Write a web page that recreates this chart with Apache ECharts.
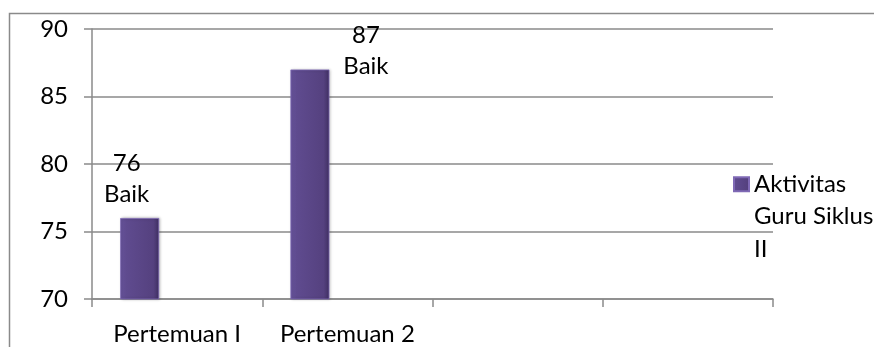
<!DOCTYPE html>
<html lang="id" style="height: 100%">
<head>
    <meta charset="UTF-8">
    <script src="https://cdn.jsdelivr.net/npm/echarts@6/dist/echarts.min.js"></script>
    <title>Aktivitas Guru Siklus II</title>
</head>
<body style="height: 100%; margin: 0; background: #fff">
<div id="chart" style="width: 874px; height: 347px"></div>
<script>
    // data
    var categories = ['Pertemuan I', 'Pertemuan 2', '', ''];
    var nilai = [76, 87];
    var kategori = ['Baik', 'Baik'];
    var seriesName = 'Aktivitas Guru Siklus II';
    var yTicks = [70, 75, 80, 85, 90];

    var fontName = 'Lato';
    var gray = '#8a8a8a';

    var myChart = echarts.init(document.getElementById('chart'));

    var barColor = new echarts.graphic.LinearGradient(0, 0, 1, 0, [
        {offset: 0, color: '#6a56a0'},
        {offset: 0.15, color: '#5f4b8f'},
        {offset: 0.85, color: '#55417f'},
        {offset: 1, color: '#3f2f62'}
    ]);

    // label posisi per batang (yg kedua ada di kanan atas)
    var labelPos = [
        {offset: [-13, 0], distance: 8},
        {offset: [56, 12], distance: 0}
    ];

    var barData = nilai.map(function (v, i) {
        return {
            value: v,
            label: {
                offset: labelPos[i].offset,
                distance: labelPos[i].distance,
                formatter: function (p) {
                    return p.value + '\n' + kategori[p.dataIndex];
                }
            }
        };
    });

    var option = {
        animation: false,
        textStyle: {fontFamily: fontName},
        graphic: [{
            type: 'rect',
            silent: true,
            shape: {x: 9.5, y: 13.5, width: 1000, height: 1000},
            style: {fill: 'none', stroke: gray, lineWidth: 1.5}
        }],
        grid: {left: 92, right: 101, top: 29, bottom: 48},
        legend: {
            data: [seriesName],
            orient: 'vertical',
            left: 728,
            top: 98,
            itemWidth: 15,
            itemHeight: 14,
            itemGap: 5,
            icon: 'rect',
            // 2 baris kosong di atas supaya ikon sejajar dgn baris pertama
            formatter: function (name) {
                return '\n\n' + name.replace('Aktivitas ', 'Aktivitas\n').replace('Siklus ', 'Siklus\n');
            },
            textStyle: {
                fontFamily: fontName,
                fontSize: 24,
                color: '#000',
                lineHeight: 32.5
            }
        },
        xAxis: {
            type: 'category',
            data: categories,
            axisLine: {lineStyle: {color: gray, width: 1.5}},
            axisTick: {show: true, interval: 0, length: 8, lineStyle: {color: gray, width: 1.5}},
            axisLabel: {color: '#000', interval: 0, fontSize: 24, fontFamily: fontName, margin: 23}
        },
        yAxis: {
            type: 'value',
            min: yTicks[0],
            max: yTicks[yTicks.length - 1],
            interval: 5,
            axisLine: {show: true, lineStyle: {color: gray, width: 1.5}},
            axisTick: {show: true, length: 8, lineStyle: {color: gray, width: 1.5}},
            axisLabel: {color: '#000', fontSize: 24, fontFamily: fontName, margin: 24},
            splitLine: {lineStyle: {color: gray, width: 1.5}}
        },
        series: [
            {
                name: seriesName,
                type: 'bar',
                barWidth: 39,
                barGap: '92%',
                data: barData,
                itemStyle: {
                    color: barColor,
                    borderColor: '#7f69b5',
                    borderWidth: 0.8,
                    shadowColor: 'rgba(0,0,0,0.25)',
                    shadowBlur: 3,
                    shadowOffsetX: 1
                },
                label: {
                    show: true,
                    position: 'top',
                    color: '#000',
                    fontSize: 24,
                    fontFamily: fontName,
                    lineHeight: 31
                }
            },
            {
                // slot kosong, supaya batang geser ke kiri seperti aslinya
                name: 'kosong',
                type: 'bar',
                barWidth: 39,
                data: []
            }
        ]
    };
    myChart.setOption(option);
</script>
</body>
</html>
